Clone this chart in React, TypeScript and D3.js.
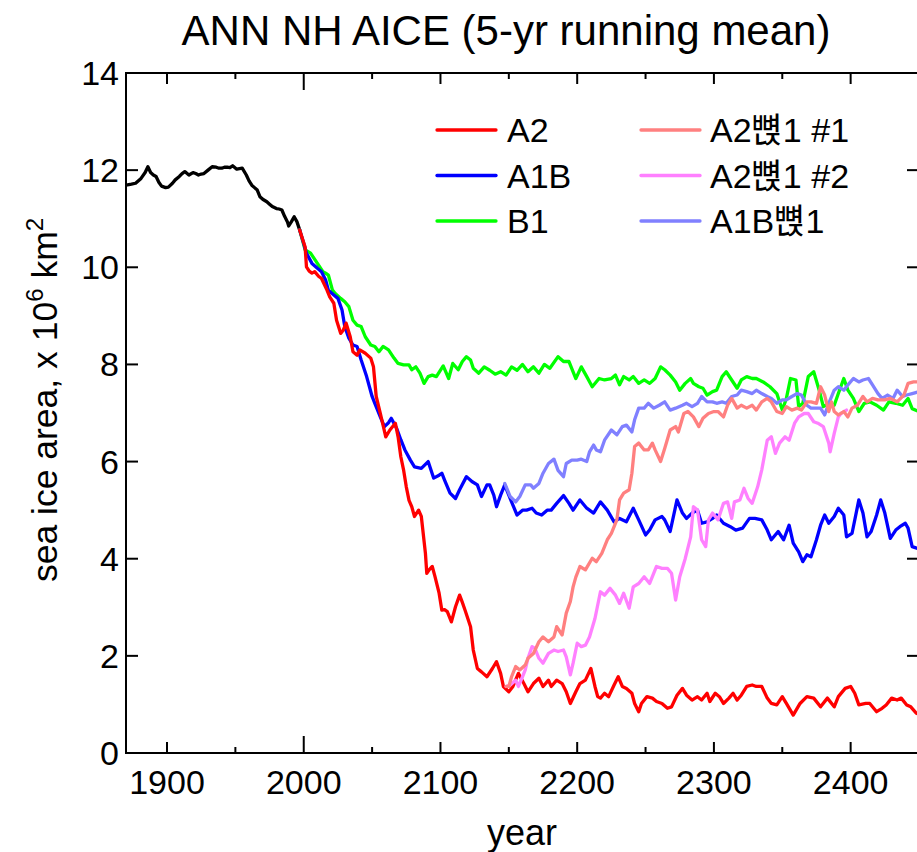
import React from 'react';
import * as d3 from 'd3';

const ARROW = '\uBF0D';
const TITLE = 'ANN NH AICE (5-yr running mean)';
const X_LABEL = 'year';
const X_TICKS = [1900, 2000, 2100, 2200, 2300, 2400];
const X_MINOR = [1900, 1950, 2000, 2050, 2100, 2150, 2200, 2250, 2300, 2350, 2400, 2450];
const Y_TICKS = [0, 2, 4, 6, 8, 10, 12, 14];

const SERIES_NAMES = ['A2', 'A1B', 'B1', 'A2' + ARROW + '1 #1', 'A2' + ARROW + '1 #2', 'A1B' + ARROW + '1'];
const SERIES_COLORS = ['#ff0000', '#0000ff', '#00ff00', '#ff8080', '#ff80ff', '#8080ff'];

const HIST: [number, number][] = [[1870,11.69],[1874,11.71],[1877,11.73],[1881,11.83],[1884,11.95],[1886,12.07],[1888,11.95],[1890,11.9],[1892,11.87],[1894,11.75],[1896,11.67],[1899,11.64],[1901,11.65],[1904,11.73],[1906,11.8],[1909,11.87],[1911,11.93],[1913,11.97],[1916,11.9],[1919,11.95],[1921,11.93],[1923,11.9],[1925,11.92],[1927,11.93],[1930,12.0],[1933,12.07],[1936,12.06],[1938,12.04],[1940,12.04],[1942,12.06],[1944,12.06],[1946,12.05],[1948,12.09],[1951,12.02],[1953,12.03],[1955,12.04],[1958,11.9],[1960,11.78],[1962,11.69],[1964,11.64],[1966,11.59],[1968,11.45],[1970,11.4],[1973,11.35],[1975,11.3],[1977,11.25],[1980,11.21],[1982,11.2],[1984,11.18],[1986,11.05],[1988,10.94],[1989,10.85],[1991,10.94],[1993,11.04],[1995,10.94],[1997,10.77]];

const A2: [number, number][] = [[1997,10.77],[2001,10.42],[2002,10.01],[2004,9.92],[2006,9.88],[2008,9.91],[2011,9.81],[2013,9.77],[2015,9.65],[2017,9.53],[2019,9.39],[2022,9.26],[2024,8.91],[2027,8.64],[2029,8.71],[2031,8.85],[2034,8.57],[2036,8.26],[2039,8.19],[2041,8.30],[2045,8.23],[2049,8.13],[2051,7.95],[2053,7.34],[2056,6.99],[2060,6.51],[2063,6.65],[2067,6.79],[2069,6.51],[2071,6.1],[2073,5.83],[2075,5.48],[2077,5.2],[2079,5.07],[2081,4.87],[2084,5.0],[2086,4.87],[2089,4.11],[2090,3.7],[2092,3.78],[2094,3.84],[2096,3.63],[2099,3.29],[2101,2.94],[2103,2.95],[2105,2.91],[2108,2.70],[2111,3.01],[2114,3.25],[2116,3.1],[2118,2.94],[2122,2.60],[2124,2.12],[2127,1.74],[2130,1.67],[2134,1.57],[2138,1.74],[2141,1.88],[2144,1.64],[2146,1.37],[2150,1.26],[2153,1.37],[2157,1.64],[2161,1.43],[2164,1.26],[2168,1.43],[2172,1.54],[2175,1.37],[2179,1.50],[2181,1.37],[2185,1.50],[2189,1.43],[2192,1.26],[2195,1.02],[2199,1.26],[2202,1.43],[2206,1.50],[2210,1.74],[2213,1.37],[2215,1.16],[2217,1.13],[2220,1.23],[2223,1.16],[2227,1.40],[2230,1.57],[2233,1.37],[2236,1.33],[2240,1.23],[2242,1.02],[2245,0.85],[2247,1.02],[2251,1.16],[2255,1.13],[2258,1.06],[2262,1.02],[2266,0.92],[2269,0.95],[2273,1.19],[2277,1.33],[2280,1.19],[2284,1.09],[2288,1.16],[2291,1.09],[2295,1.23],[2297,1.06],[2301,1.23],[2304,1.16],[2307,1.02],[2311,1.13],[2314,1.23],[2317,1.09],[2320,1.19],[2324,1.37],[2328,1.40],[2331,1.37],[2335,1.37],[2339,1.13],[2342,1.02],[2346,0.99],[2350,1.16],[2353,1.02],[2358,0.78],[2363,1.02],[2368,1.16],[2373,1.13],[2378,0.95],[2383,1.13],[2388,0.95],[2391,1.16],[2396,1.33],[2400,1.37],[2403,1.23],[2406,0.99],[2411,1.02],[2414,1.02],[2419,0.85],[2423,0.92],[2426,0.99],[2430,1.13],[2434,1.09],[2437,1.13],[2441,0.99],[2444,0.95],[2448,0.82],[2450,0.80]];

const A1B: [number, number][] = [[1997,10.77],[2000,10.49],[2002,10.29],[2006,10.08],[2010,9.98],[2013,9.91],[2016,9.74],[2018,9.53],[2022,9.43],[2025,9.36],[2028,9.12],[2030,8.78],[2033,8.54],[2036,8.40],[2039,8.37],[2042,8.09],[2046,7.75],[2050,7.34],[2052,7.20],[2056,6.92],[2059,6.72],[2062,6.80],[2064,6.89],[2068,6.68],[2071,6.45],[2074,6.24],[2078,6.03],[2081,5.89],[2086,5.86],[2091,6.0],[2095,5.66],[2099,5.72],[2101,5.76],[2103,5.62],[2107,5.35],[2111,5.24],[2114,5.42],[2119,5.69],[2123,5.59],[2127,5.52],[2130,5.28],[2134,5.52],[2136,5.52],[2139,5.31],[2141,5.07],[2144,5.31],[2147,5.52],[2150,5.31],[2152,5.17],[2156,4.90],[2160,5.0],[2163,5.0],[2167,5.04],[2170,4.94],[2174,4.90],[2178,5.0],[2181,5.0],[2185,5.14],[2190,5.30],[2194,5.14],[2197,5.0],[2202,5.21],[2207,5.04],[2212,4.94],[2217,5.17],[2222,5.0],[2227,4.76],[2231,4.83],[2236,4.76],[2241,5.04],[2245,4.80],[2250,4.49],[2253,4.59],[2257,4.80],[2262,4.87],[2264,4.80],[2268,4.56],[2273,5.21],[2277,4.94],[2280,4.83],[2284,4.94],[2288,5.0],[2291,4.73],[2295,4.76],[2299,4.83],[2302,4.90],[2307,4.73],[2312,4.66],[2316,4.59],[2321,4.63],[2326,4.83],[2330,4.83],[2335,4.80],[2339,4.59],[2342,4.39],[2347,4.56],[2351,4.39],[2355,4.69],[2358,4.32],[2362,4.14],[2365,3.94],[2368,4.08],[2371,4.04],[2375,4.39],[2378,4.69],[2381,4.90],[2384,4.73],[2388,4.87],[2391,5.04],[2395,4.90],[2397,4.45],[2401,4.52],[2406,5.21],[2409,4.94],[2412,4.45],[2415,4.56],[2419,4.90],[2422,5.21],[2425,4.94],[2429,4.42],[2433,4.59],[2436,4.66],[2440,4.73],[2442,4.63],[2445,4.25],[2450,4.2]];

const B1: [number, number][] = [[1997,10.77],[2001,10.36],[2005,10.29],[2010,10.08],[2014,9.91],[2016,9.88],[2018,9.84],[2021,9.53],[2023,9.46],[2027,9.36],[2030,9.29],[2033,9.19],[2036,8.91],[2039,8.81],[2042,8.78],[2045,8.57],[2049,8.40],[2052,8.37],[2055,8.26],[2058,8.37],[2062,8.30],[2066,8.13],[2069,8.02],[2073,7.99],[2077,7.99],[2079,7.89],[2082,7.95],[2085,7.82],[2088,7.61],[2091,7.75],[2094,7.78],[2097,7.75],[2102,7.97],[2106,7.71],[2109,8.02],[2113,7.89],[2116,8.06],[2119,8.16],[2122,8.09],[2124,7.92],[2128,7.82],[2132,7.95],[2136,7.88],[2140,7.80],[2144,7.85],[2148,7.78],[2152,7.95],[2156,7.88],[2160,8.0],[2164,7.85],[2168,7.95],[2172,7.82],[2176,8.0],[2180,7.92],[2186,8.16],[2190,8.06],[2194,8.06],[2199,7.71],[2203,7.95],[2207,7.75],[2211,7.54],[2216,7.71],[2220,7.68],[2225,7.71],[2228,7.78],[2231,7.58],[2234,7.75],[2238,7.68],[2241,7.75],[2245,7.61],[2249,7.68],[2253,7.61],[2257,7.71],[2261,7.95],[2264,7.89],[2268,7.78],[2272,7.64],[2275,7.47],[2279,7.61],[2283,7.71],[2285,7.61],[2289,7.54],[2292,7.51],[2295,7.37],[2299,7.44],[2302,7.47],[2306,7.75],[2309,7.85],[2313,7.68],[2317,7.51],[2320,7.68],[2324,7.75],[2328,7.71],[2331,7.71],[2336,7.64],[2341,7.54],[2346,7.40],[2350,7.06],[2353,7.30],[2356,7.71],[2360,7.68],[2362,7.13],[2365,7.20],[2369,7.75],[2373,7.85],[2377,7.47],[2380,7.13],[2384,7.20],[2388,7.16],[2391,7.40],[2395,7.71],[2398,7.47],[2402,7.30],[2406,7.03],[2410,7.20],[2414,7.23],[2419,7.16],[2424,7.06],[2428,7.23],[2433,7.20],[2438,7.16],[2442,7.30],[2445,7.09],[2450,7.03]];

const A2_TO_1_N1: [number, number][] = [[2148,1.37],[2150,1.37],[2152,1.57],[2155,1.78],[2158,1.71],[2162,1.81],[2164,1.95],[2168,2.05],[2172,2.29],[2175,2.39],[2179,2.29],[2183,2.39],[2185,2.60],[2189,2.43],[2192,2.88],[2195,3.12],[2197,3.42],[2199,3.62],[2202,3.84],[2206,3.77],[2211,4.01],[2214,3.94],[2218,4.11],[2222,4.39],[2225,4.52],[2229,4.80],[2231,5.21],[2234,5.35],[2238,5.42],[2240,5.76],[2242,6.31],[2245,6.38],[2249,6.24],[2252,6.24],[2255,6.38],[2257,6.24],[2261,6.0],[2264,6.27],[2268,6.65],[2272,6.72],[2274,6.61],[2278,6.99],[2281,7.03],[2285,6.92],[2289,6.72],[2292,6.89],[2296,6.99],[2300,7.03],[2303,7.03],[2307,6.92],[2310,7.16],[2313,7.30],[2317,7.10],[2320,7.16],[2324,7.10],[2328,7.16],[2331,7.06],[2335,7.23],[2339,7.30],[2342,7.23],[2346,7.03],[2350,6.99],[2353,7.13],[2357,7.06],[2361,7.10],[2364,7.06],[2368,7.23],[2371,7.23],[2375,7.20],[2378,7.54],[2381,7.37],[2384,7.03],[2386,7.23],[2388,7.03],[2391,6.96],[2395,7.03],[2398,6.92],[2401,7.10],[2405,7.16],[2409,7.34],[2412,7.23],[2416,7.30],[2420,7.27],[2425,7.27],[2429,7.30],[2434,7.23],[2439,7.37],[2442,7.61],[2446,7.64],[2450,7.64]];

const A2_TO_1_N2: [number, number][] = [[2148,1.37],[2151,1.40],[2155,1.50],[2157,1.37],[2160,1.57],[2162,1.71],[2164,1.95],[2167,2.19],[2169,2.16],[2172,1.95],[2175,1.85],[2179,2.05],[2183,2.12],[2186,2.09],[2190,2.12],[2192,1.98],[2195,1.61],[2197,1.85],[2200,2.26],[2203,2.19],[2206,2.22],[2209,2.39],[2213,2.77],[2217,3.32],[2220,3.25],[2224,3.39],[2228,3.25],[2231,3.08],[2234,3.29],[2238,2.98],[2241,3.42],[2245,3.49],[2249,3.63],[2253,3.49],[2258,3.84],[2262,3.80],[2266,3.80],[2269,3.70],[2272,3.15],[2275,3.63],[2279,4.0],[2283,4.45],[2285,5.07],[2288,5.0],[2291,4.39],[2294,4.25],[2296,4.80],[2299,4.94],[2303,4.80],[2307,5.14],[2310,5.17],[2313,4.83],[2315,5.17],[2319,5.21],[2322,5.45],[2325,5.24],[2328,5.14],[2332,5.48],[2335,5.83],[2339,6.44],[2342,6.51],[2345,6.17],[2348,6.38],[2352,6.51],[2355,6.44],[2359,6.79],[2362,6.92],[2366,6.99],[2369,6.99],[2373,6.82],[2376,6.79],[2380,6.72],[2384,6.38],[2385,6.20],[2388,6.58],[2391,6.92],[2393,6.99],[2397,7.06]];

const A1B_TO_1: [number, number][] = [[2147,5.55],[2151,5.28],[2155,5.17],[2158,5.28],[2162,5.52],[2166,5.52],[2168,5.45],[2172,5.55],[2175,5.76],[2179,5.96],[2183,6.05],[2186,5.82],[2190,5.69],[2192,5.96],[2196,6.03],[2200,6.03],[2203,6.05],[2207,6.0],[2209,6.2],[2212,6.34],[2214,6.24],[2217,6.20],[2220,6.44],[2225,6.65],[2229,6.55],[2233,6.72],[2236,6.75],[2240,6.61],[2242,6.86],[2245,7.10],[2249,7.10],[2252,7.20],[2256,7.10],[2260,7.16],[2264,7.23],[2268,7.06],[2272,7.10],[2277,7.16],[2280,7.20],[2284,7.13],[2288,7.20],[2291,7.34],[2295,7.23],[2299,7.23],[2302,7.20],[2306,7.23],[2309,7.20],[2313,7.34],[2317,7.37],[2320,7.47],[2324,7.44],[2328,7.40],[2331,7.47],[2335,7.40],[2339,7.34],[2342,7.30],[2346,7.20],[2350,7.27],[2353,7.27],[2357,7.34],[2361,7.40],[2364,7.37],[2368,7.16],[2371,7.10],[2375,7.10],[2378,7.10],[2381,6.96],[2384,7.20],[2388,7.47],[2391,7.54],[2395,7.47],[2398,7.58],[2402,7.71],[2406,7.64],[2409,7.68],[2413,7.71],[2416,7.58],[2420,7.40],[2423,7.30],[2427,7.37],[2431,7.30],[2434,7.47],[2438,7.34],[2441,7.37],[2445,7.40],[2450,7.44]];

const FONT = "'Liberation Sans', Arial, Helvetica, 'Noto Sans CJK KR', sans-serif";

export default function App() {
  const W = 917, H = 852;
  const x = d3.scaleLinear().domain([1870, 2450]).range([126, 919]);
  const y = d3.scaleLinear().domain([0, 14]).range([753, 73]);
  const line = d3.line<[number, number]>().x(d => x(d[0])).y(d => y(d[1]));

  const drawn: { data: [number, number][]; color: string }[] = [
    { data: HIST, color: '#000000' },
    { data: B1, color: SERIES_COLORS[2] },
    { data: A1B, color: SERIES_COLORS[1] },
    { data: A2, color: SERIES_COLORS[0] },
    { data: A1B_TO_1, color: SERIES_COLORS[5] },
    { data: A2_TO_1_N2, color: SERIES_COLORS[4] },
    { data: A2_TO_1_N1, color: SERIES_COLORS[3] },
  ];

  const [x0, x1] = x.range();
  const [yb, yt] = y.range();

  const legendRows = [130, 175.5, 221];
  const legendCols = [{ l0: 437, l1: 496, t: 507 }, { l0: 641, l1: 700, t: 710 }];

  return (
    <svg width={W} height={H} style={{ position: 'absolute', left: 0, top: 0, background: '#fff' }} fontFamily={FONT}>
      <defs>
        <clipPath id="plot">
          <rect x={x0} y={yt} width={x1 - x0} height={yb - yt} />
        </clipPath>
      </defs>
      <rect x={0} y={0} width={W} height={H} fill="#fff" />
      <text x={506} y={45} fontSize={42} textAnchor="middle">{TITLE}</text>

      <g clipPath="url(#plot)">
        {drawn.map((s, i) => (
          <path key={i} d={line(s.data) || ''} fill="none" stroke={s.color} strokeWidth={3.3} strokeLinejoin="round" strokeLinecap="round" />
        ))}
      </g>

      <rect x={x0} y={yt} width={x1 - x0} height={yb - yt} fill="none" stroke="#000" strokeWidth={2} />

      {X_MINOR.map(t => {
        const len = t % 100 === 0 ? (t === 2000 ? 17 : 11) : 6;
        return (
          <g key={'xt' + t}>
            <line x1={x(t)} x2={x(t)} y1={yb} y2={yb - len} stroke="#000" strokeWidth={2} />
            <line x1={x(t)} x2={x(t)} y1={yt} y2={yt + len} stroke="#000" strokeWidth={2} />
          </g>
        );
      })}
      {X_TICKS.map(t => (
        <text key={'xl' + t} x={x(t)} y={794} fontSize={34} textAnchor="middle">{t}</text>
      ))}

      {Y_TICKS.map(t => (
        <g key={'yt' + t}>
          <line x1={x0} x2={x0 + 12} y1={y(t)} y2={y(t)} stroke="#000" strokeWidth={2} />
          <line x1={x1} x2={x1 - 12} y1={y(t)} y2={y(t)} stroke="#000" strokeWidth={2} />
          <text x={119} y={y(t) + 12} fontSize={34} textAnchor="end">{t}</text>
        </g>
      ))}

      <text x={522} y={845} fontSize={36} textAnchor="middle">{X_LABEL}</text>
      <text transform="translate(57,400) rotate(-90)" fontSize={35.5} textAnchor="middle">
        sea ice area, x 10<tspan dy={-14} fontSize={24}>6</tspan><tspan dy={14}> km</tspan><tspan dy={-14} fontSize={24}>2</tspan>
      </text>

      {SERIES_NAMES.map((name, i) => {
        const col = legendCols[Math.floor(i / 3)];
        const ry = legendRows[i % 3];
        return (
          <g key={'lg' + i}>
            <line x1={col.l0} x2={col.l1} y1={ry} y2={ry} stroke={SERIES_COLORS[i]} strokeWidth={3.3} strokeLinecap="round" />
            <text x={col.t} y={ry + 12} fontSize={34}>{name}</text>
          </g>
        );
      })}
    </svg>
  );
}
